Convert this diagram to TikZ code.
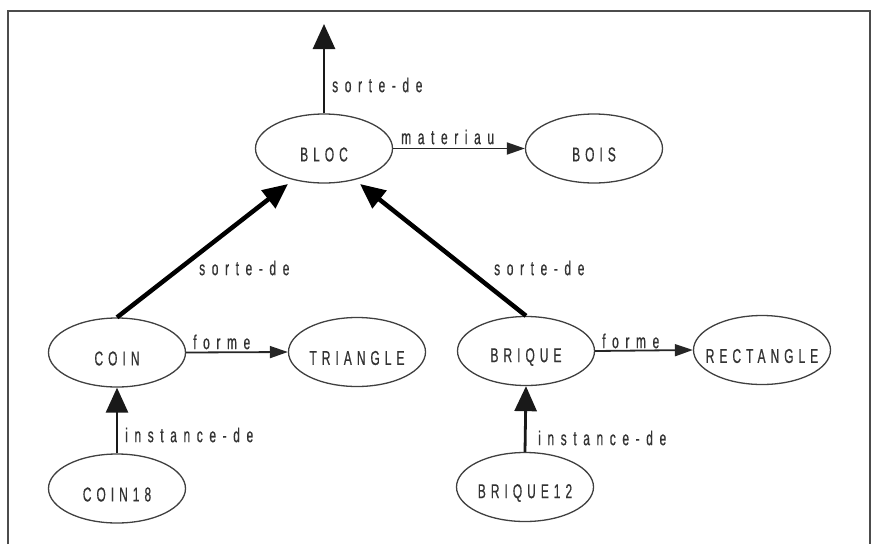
\documentclass[tikz,border=0pt]{standalone}
\usepackage{fontspec}
\setmainfont{Liberation Sans}
\newfontfamily\capfont[FakeStretch=0.6,LetterSpace=25,FakeBold=0.6]{Liberation Sans}
\newfontfamily\relfont[FakeStretch=0.6,LetterSpace=33,FakeBold=0.6]{Liberation Sans}
\usetikzlibrary{arrows.meta,shapes.geometric}
\begin{document}
\begin{tikzpicture}[x=1pt,y=-1pt,
  obj/.style={ellipse,draw=black!75,line width=1.3pt,minimum width=137pt,minimum height=69pt,inner sep=0pt},
  lab/.style={font=\capfont\fontsize{20}{20}\selectfont,text=black!80,inner sep=0pt,yshift=-6pt},
  rel/.style={font=\relfont\fontsize{20}{20}\selectfont,text=black!80,inner sep=0pt,anchor=west},
  relarrow/.style={draw=black!85,line width=1.8pt,-{Triangle[length=18pt,width=12pt]}},
  instarrow/.style={draw=black!90,line width=2.8pt,-{Triangle[length=25pt,width=22pt]}},
  isaarrow/.style={draw=black,line width=4.5pt,-{Triangle[length=25pt,width=22pt]}}]
\useasboundingbox (0,0) rectangle (877,544);
\draw[line width=1.5pt,black!70] (8,544) -- (8,11) -- (870,11) -- (870,544);
% nodes
\node[obj,label={[lab]center:BLOC}] (bloc) at (324,148.5) {};
\node[obj,label={[lab]center:BOIS}] (bois) at (594,148.5) {};
\node[obj,label={[lab]center:COIN}] (coin) at (117,352.5) {};
\node[obj,label={[lab]center:TRIANGLE}] (tri) at (357,352) {};
\node[obj,label={[lab]center:BRIQUE}] (briq) at (526,351) {};
\node[obj,label={[lab]center:RECTANGLE}] (rect) at (762,350) {};
\node[obj,label={[lab]center:COIN18}] (coin18) at (117,488.5) {};
\node[obj,label={[lab]center:BRIQUE12}] (briq12) at (525,487) {};
% free ends
\coordinate (top) at (324,24);
\coordinate (blocL) at (288,184);
\coordinate (blocR) at (360,184);
% connectors
\draw[instarrow] (bloc.north) -- (top);
\draw[relarrow] (bloc.east) -- (bois.west);
\draw[isaarrow] (coin.north) -- (blocL);
\draw[isaarrow] (briq.north) -- (blocR);
\draw[relarrow] (coin.east) -- (tri.west);
\draw[relarrow] (briq.east) -- (rect.west);
\draw[instarrow] (coin18.north) -- (coin.south);
\draw[instarrow] (briq12.north) -- (briq.south);
% labels
\node[rel] (l1) at (332,85) {sorte-de};
\node[rel] (l2) at (401,137) {materiau};
\node[rel] (l3) at (199,268) {sorte-de};
\node[rel] (l4) at (494,268) {sorte-de};
\node[rel] (l5) at (193,342) {forme};
\node[rel] (l6) at (602,341) {forme};
\node[rel] (l7) at (125,435) {instance-de};
\node[rel] (l8) at (538,438) {instance-de};
\end{tikzpicture}
\end{document}
